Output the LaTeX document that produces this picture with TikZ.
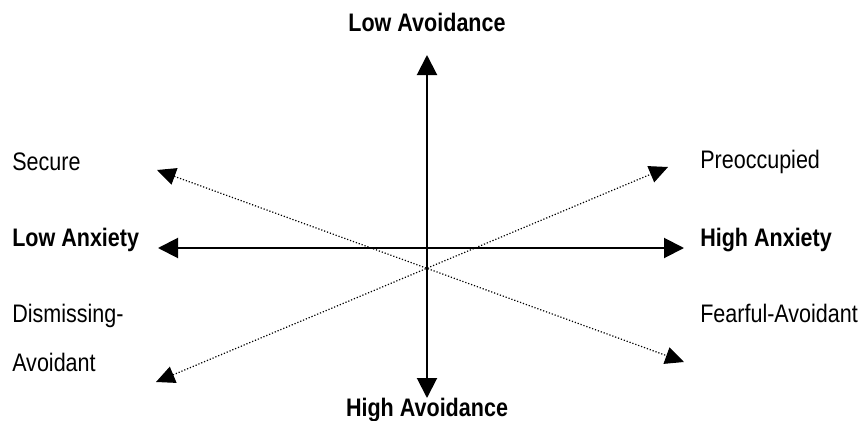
\documentclass[tikz,border=0pt]{standalone}
\usepackage{fontspec}
\setmainfont{Liberation Sans}[FakeStretch=0.85]
\usetikzlibrary{arrows.meta}

\tikzset{
  axis/.style={line width=1.5pt, {Triangle[length=15pt, width=15pt]}-{Triangle[length=15pt, width=15pt]}},
  style line/.style={line width=0.9pt, dash pattern=on 0.9pt off 1.4pt, {Triangle[length=14pt, width=13pt]}-{Triangle[length=14pt, width=13pt]}},
  axis label/.style={font=\fontsize{19}{21}\selectfont\bfseries, inner sep=0pt},
  style label/.style={font=\fontsize{19}{21}\selectfont, inner sep=0pt, anchor=west}
}

\begin{document}
\begin{tikzpicture}[x=0.75pt, y=-0.75pt]

  \useasboundingbox (0,0) rectangle (861,421);

  % -- Axis end points --
  \coordinate (avlow) at (427, 55);
  \coordinate (avhigh) at (427, 398);
  \coordinate (anxlow) at (158, 248);
  \coordinate (anxhigh) at (684, 248);

  % -- Style end points --
  \coordinate (secure) at (157, 170);
  \coordinate (fearful) at (684, 362);
  \coordinate (dismiss) at (156, 382);
  \coordinate (preocc) at (668, 167);

  % -- Axes --
  \draw[axis] (avhigh) -- (avlow);
  \draw[axis] (anxlow) -- (anxhigh);

  % -- Attachment styles (diagonals) --
  \draw[style line] (secure) -- (fearful);
  \draw[style line] (dismiss) -- (preocc);

  % -- Axis labels --
  \node[axis label] (lowav) at (427, 22) {Low Avoidance};
  \node[axis label] (highav) at (427, 410) {High Avoidance};
  \node[axis label, anchor=west] (lowanx) at (12, 240) {Low Anxiety};
  \node[axis label, anchor=west] (highanx) at (700, 240) {High Anxiety};

  % Style labels
  \node[style label] (seclab) at (12, 162) {Secure};
  \node[style label] (dislab) at (12, 316) {Dismissing-};
  \node[style label] (dislab2) at (12, 362) {Avoidant};
  \node[style label] (prelab) at (700, 162) {Preoccupied};
  \node[style label] (fealab) at (700, 313) {Fearful-Avoidant};

\end{tikzpicture}
\end{document}
